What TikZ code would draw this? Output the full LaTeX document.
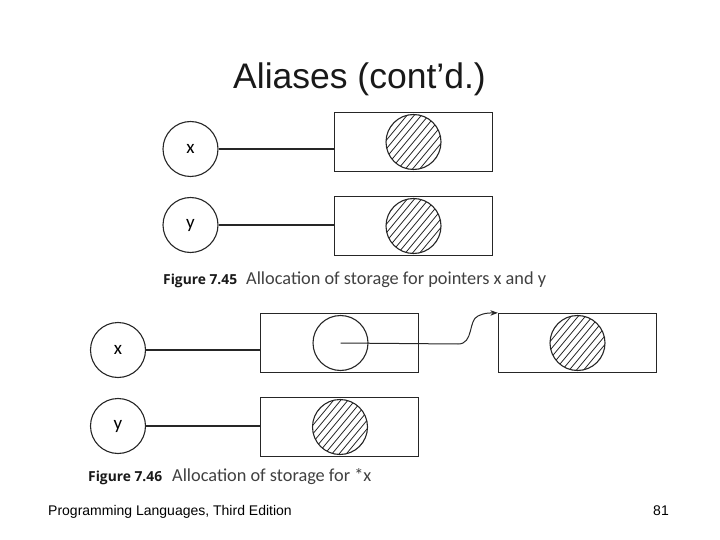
\documentclass[tikz,border=0pt]{standalone}
\usepackage{fontspec}
\setmainfont{Liberation Sans}
\newfontfamily\capfont{Carlito}
\newfontfamily\fignofont{Open Sans}
\usetikzlibrary{arrows.meta}
\begin{document}
\begin{tikzpicture}[x=1pt,y=-1pt,
  ink/.style={draw=black!85},
  var/.style={circle,ink,line width=1.1pt,minimum size=55pt,inner sep=0pt,
    font=\capfont\fontsize{19}{19}\selectfont},
  cell/.style={rectangle,ink,line width=1.3pt,minimum width=158pt,minimum height=59pt,inner sep=0pt},
  blob/.style={circle,ink,line width=1.1pt,minimum size=55pt,inner sep=0pt},
  hatched/.style={blob,path picture={
    \foreach \d in {-27.5,-22,...,28}{
      \draw[black!85,line width=0.8pt]
        ([shift={(0.77*\d-0.64*40,0.64*\d+0.77*40)}]path picture bounding box.center)
        -- ++(0.64*80,-0.77*80);
    }}},
  link/.style={ink,line width=1.2pt},
  figno/.style={font=\fignofont\bfseries\fontsize{13.8}{13.8}\selectfont,anchor=base west,inner sep=0pt,text=black!90},
  figtxt/.style={font=\capfont\fontsize{18.3}{18.3}\selectfont,anchor=base west,inner sep=0pt,text=black!75},
]
\useasboundingbox (0,0) rectangle (720,540);

% title
\node[anchor=base,inner sep=0pt,font=\fontsize{35.5}{40}\selectfont,text=black!90] (title) at (359.5,89) {Aliases (cont’d.)};

% Figure 7.45
\node[var] (x1) at (190.5,149) {x};
\node[var] (y1) at (190.5,225) {y};
\node[cell] (bx1) at (413.5,142) {};
\node[cell] (by1) at (413.5,226) {};
\node[hatched] (hx1) at (413.5,142) {};
\node[hatched] (hy1) at (413.5,226) {};
\draw[link] (x1.east) -- (x1.east -| bx1.west);
\draw[link] (y1.east) -- (y1.east -| by1.west);
\node[figno] (cap1a) at (163,284) {Figure 7.45};
\node[figtxt] (cap1b) at (246,284) {Allocation of storage for pointers x and y};

% Figure 7.46
\node[var] (x2) at (118,350) {x};
\node[var] (y2) at (118,426) {y};
\node[cell] (bx2) at (339.5,343) {};
\node[cell] (by2) at (339.5,427) {};
\node[cell] (bt) at (577.5,343) {};
\node[blob] (c2) at (340.5,343) {};
\node[hatched] (ht) at (577.5,343) {};
\node[hatched] (hy2) at (340,427) {};
\draw[link] (x2.east) -- (x2.east -| bx2.west);
\draw[link] (y2.east) -- (y2.east -| by2.west);
\coordinate (bend) at (458,344);
\draw[ink,line width=1pt,-{Stealth[length=7.5pt,width=5.5pt]}]
  (c2.center) -- (bend) .. controls (474,344) and (468,320) .. (478,316)
  .. controls (484,313) and (488,313) .. (bt.north west);
\node[figno] (cap2a) at (88,481) {Figure 7.46};
\node[figtxt] (cap2b) at (172,481) {Allocation of storage for *x};

% footer
\node[anchor=base west,inner sep=0pt,font=\fontsize{14}{14}\selectfont] (foot) at (48,515) {Programming Languages, Third Edition};
\node[anchor=base east,inner sep=0pt,font=\fontsize{14}{14}\selectfont] (page) at (669,515) {81};
\end{tikzpicture}
\end{document}
